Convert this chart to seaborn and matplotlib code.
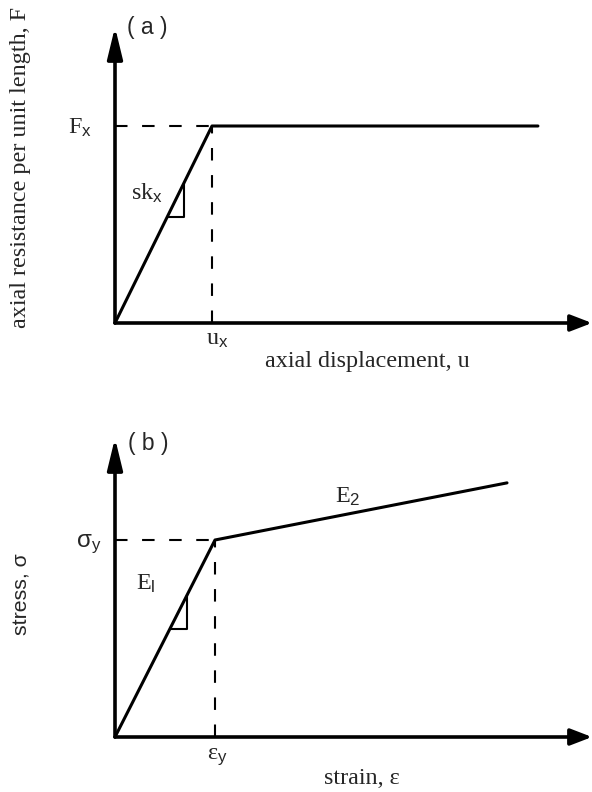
import matplotlib
matplotlib.use("Agg")
import matplotlib.pyplot as plt
import seaborn as sns
import pandas as pd

# ---- data (normalised: yield point = 1) ----
disp_a = [0.0, 1.0, 4.36]          # axial displacement (u / u_x)
force_a = [0.0, 1.0, 1.0]          # axial resistance (F / F_x)
strain_b = [0.0, 1.0, 3.92]        # strain (eps / eps_y)
stress_b = [0.0, 1.0, 1.29]        # stress (sigma / sigma_y)

sns.set_theme(style="white")
plt.rcParams["font.family"] = ["Liberation Serif", "DejaVu Serif"]
plt.rcParams["mathtext.fontset"] = "custom"
plt.rcParams["mathtext.rm"] = "Liberation Sans"
plt.rcParams["mathtext.it"] = "Liberation Sans"

fig = plt.figure(figsize=(5.92, 7.92), dpi=100)
W, H = 592.0, 792.0
FS = 17.4

def make_axes(ox, oy, top, right, x_per_px, y_per_px):
    ax = fig.add_axes([ox / W, (H - oy) / H, (right - ox) / W, (oy - top) / H])
    ax.set_xlim(0, (right - ox) * x_per_px)
    ax.set_ylim(0, (oy - top) * y_per_px)
    for s in ax.spines.values():
        s.set_visible(False)
    ax.set_xticks([]); ax.set_yticks([])
    ax.patch.set_alpha(0)
    # axes with arrow heads
    ax.annotate("", xy=(1, 0), xytext=(0, 0), xycoords="axes fraction",
                arrowprops=dict(arrowstyle="-|>,head_length=13,head_width=5.0",
                                mutation_scale=1, lw=2.6, color="black",
                                shrinkA=0, shrinkB=0))
    ax.annotate("", xy=(0, 1), xytext=(0, 0), xycoords="axes fraction",
                arrowprops=dict(arrowstyle="-|>,head_length=19,head_width=4.6",
                                mutation_scale=1, lw=2.6, color="black",
                                shrinkA=0, shrinkB=0))
    return ax

def draw_panel(ax, xs, ys, tri):
    df = pd.DataFrame({"x": xs, "y": ys})
    sns.lineplot(data=df, x="x", y="y", ax=ax, color="black", lw=2.2,
                 sort=False, estimator=None, clip_on=False)
    xy, yy = xs[1], ys[1]
    ax.plot([0, xy], [yy, yy], ls=(0, (6, 7)), color="black", lw=1.5, clip_on=False)
    ax.plot([xy, xy], [0, yy], ls=(0, (6, 7)), color="black", lw=1.5, clip_on=False)
    # slope triangle on the elastic branch
    slope = yy / xy
    x0, x1 = tri
    ax.plot([x0, x1, x1], [slope * x0, slope * x0, slope * x1],
            color="black", lw=1.5, clip_on=False)
    ax.set_xlabel(""); ax.set_ylabel("")

def label(ax, x, y, main, sub, fs=FS, main_family=None):
    kw = {}
    if main_family:
        kw["family"] = main_family
    ax.text(x, y, main + r"$_{\mathrm{" + sub + "}}$", fontsize=fs,
            ha="center", va="center", **kw)

# ---- panel (a) ----
axa = make_axes(115, 323, 27, 592, 1 / 97.0, 1 / 197.0)
draw_panel(axa, disp_a, force_a, (0.54, 0.71))
label(axa, -0.36, force_a[1] - 0.01, "F", "x")
label(axa, disp_a[1] + 0.05, -0.085, "u", "x")
label(axa, 0.33, 0.66, "sk", "x")
axa.text(0.025, 1.0, "( a )", transform=axa.transAxes, fontsize=16.5,
         family="Liberation Sans", ha="left", va="center")
axa.text(367 / W, 1 - 362 / H, "axial displacement, u", transform=fig.transFigure,
         fontsize=FS, ha="center", va="center")
fig.text(21 / W, 1 - 167 / H, "axial resistance per unit length, F", rotation=90,
         fontsize=FS, ha="center", va="center")

# ---- panel (b) ----
axb = make_axes(115, 737, 438, 592, 1 / 100.0, 1 / 197.0)
draw_panel(axb, strain_b, stress_b, (0.55, 0.72))
label(axb, -0.26, stress_b[1] - 0.02, "σ", "y", main_family="Liberation Sans")
label(axb, strain_b[1] + 0.02, -0.105, "ε", "y")
label(axb, 0.31, 0.78, "E", "l")
label(axb, 2.33, 1.22, "E", "2")
axb.text(0.027, 0.983, "( b )", transform=axb.transAxes, fontsize=16.5,
         family="Liberation Sans", ha="left", va="center")
fig.text(362 / W, 1 - 779 / H, "strain, ε", fontsize=FS, ha="center", va="center")
fig.text(22 / W, 1 - 594 / H, "stress, σ", rotation=90, family="Liberation Sans",
         fontsize=15.3, ha="center", va="center")

fig.savefig("out.png", dpi=100, facecolor="white")
